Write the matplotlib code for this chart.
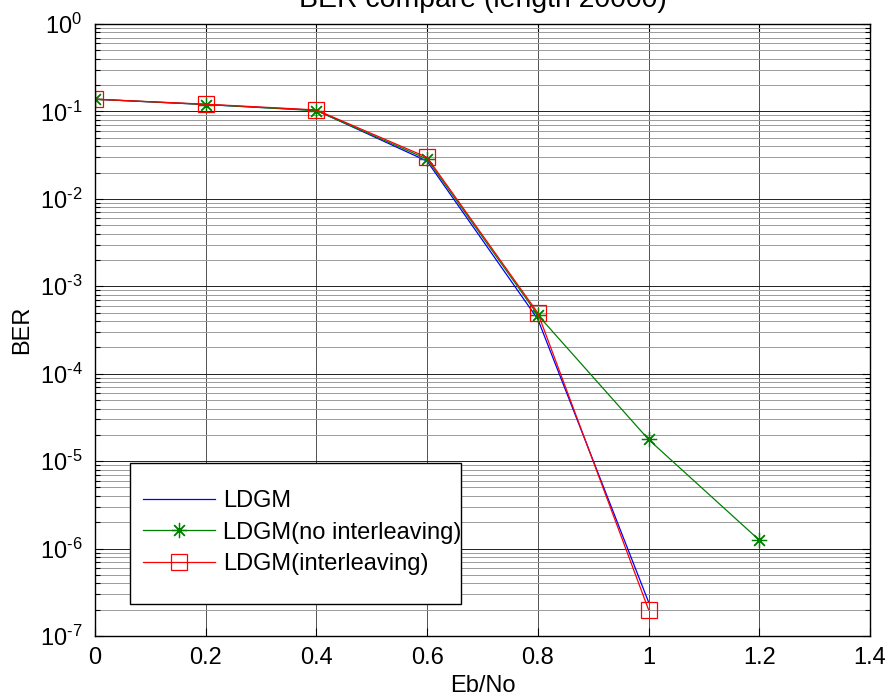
import matplotlib
matplotlib.use('Agg')
import matplotlib.pyplot as plt
from matplotlib.ticker import LogLocator, NullFormatter, FuncFormatter
from matplotlib.patches import Rectangle
import numpy as np

plt.rcParams['font.family'] = ['Liberation Sans', 'DejaVu Sans']
plt.rcParams['mathtext.fontset'] = 'custom'
plt.rcParams['mathtext.rm'] = 'Liberation Sans'
plt.rcParams['mathtext.it'] = 'Liberation Sans'
plt.rcParams['font.size'] = 17

# data
ebno = [0, 0.2, 0.4, 0.6, 0.8, 1.0]
ebno_noint = [0, 0.2, 0.4, 0.6, 0.8, 1.0, 1.2]
ber_ldgm = [0.138, 0.12, 0.103, 0.027, 4.2e-4, 2.45e-7]
ber_noint = [0.138, 0.12, 0.102, 0.0285, 4.7e-4, 1.77e-5, 1.25e-6]
ber_int = [0.138, 0.121, 0.104, 0.0298, 4.95e-4, 2.0e-7]
x_ticks = [0, 0.2, 0.4, 0.6, 0.8, 1, 1.2, 1.4]
x_tick_labels = ['0', '0.2', '0.4', '0.6', '0.8', '1', '1.2', '1.4']

fig = plt.figure(figsize=(8.91, 7), dpi=100)
ax = fig.add_axes([0.1066, 0.0914, 0.8698, 0.8743])

ax.semilogy(ebno, ber_ldgm, color='blue', lw=0.9, label='LDGM')
ax.semilogy(ebno_noint, ber_noint, color='green', lw=0.9, marker=(8, 2, 0),
            markersize=11, markeredgewidth=0.9, label='LDGM(no interleaving)')
ax.semilogy(ebno, ber_int, color='red', lw=0.9, marker='s', markersize=11,
            markerfacecolor='none', markeredgewidth=0.9, label='LDGM(interleaving)')

ax.set_xlim(0, 1.4)
ax.set_ylim(1e-7, 1)
ax.set_xticks(x_ticks)
ax.set_xticklabels(x_tick_labels)
ax.yaxis.set_major_locator(LogLocator(base=10, numticks=10))
ax.yaxis.set_minor_locator(LogLocator(base=10, subs=range(2, 10), numticks=100))
ax.yaxis.set_minor_formatter(NullFormatter())


def exp_label(v, pos):
    e = int(round(np.log10(v)))
    if e < 0:
        return r'$10^{\text{-}%d}$' % (-e)
    return r'$10^{%d}$' % e


ax.yaxis.set_major_formatter(FuncFormatter(exp_label))

ax.grid(True, which='major', axis='y', color='#202020', lw=0.7)
ax.grid(True, which='minor', axis='y', color='#9a9a9a', lw=0.7)
ax.grid(True, which='major', axis='x', color='#505050', lw=0.7)

ax.tick_params(which='both', direction='in', top=True, right=True)
ax.tick_params(which='major', length=6, width=0.8)
ax.tick_params(which='minor', length=3.5, width=0.8)
ax.tick_params(axis='x', pad=8)
ax.tick_params(axis='y', pad=9)
for s in ax.spines.values():
    s.set_linewidth(1.0)
    s.set_color('black')

ax.set_title('BER compare (length 20000)', pad=12)
ax.set_xlabel('Eb/No', labelpad=4)
ax.set_ylabel('BER', labelpad=5)

# legend box (drawn separately, text overflows it like in the original)
box = Rectangle((0.0452, 0.0523), 0.427, 0.2304, transform=ax.transAxes,
                facecolor='white', edgecolor='black', lw=1.0, zorder=4)
ax.add_patch(box)
leg = ax.legend(loc='upper left', bbox_to_anchor=(0.0619, 0.238), frameon=False,
                handlelength=3.05, handletextpad=0.35, borderpad=0,
                labelspacing=0.39, borderaxespad=0)
leg.set_zorder(5)

fig.savefig('out.png', dpi=100)
